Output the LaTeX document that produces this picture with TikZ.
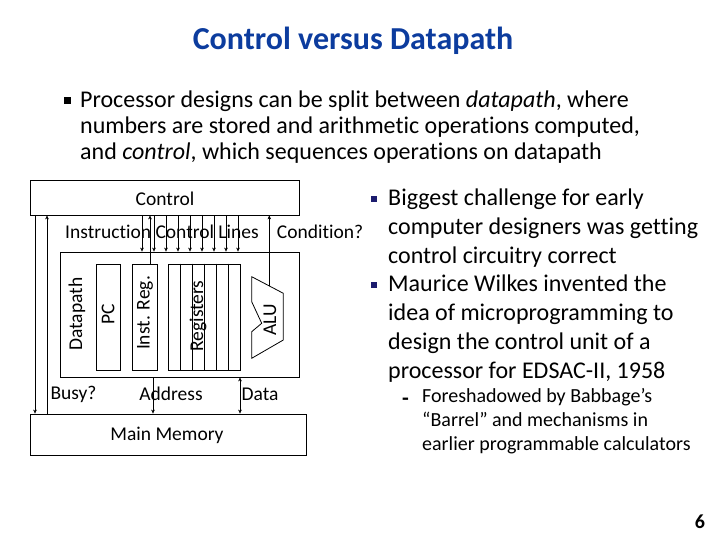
\documentclass[tikz,border=0pt]{standalone}
\usepackage{fontspec}
\setmainfont{Carlito}[Ligatures=NoCommon]
\usetikzlibrary{arrows.meta, positioning, calc}
\definecolor{titleblue}{RGB}{12,60,158}
\definecolor{bulletnavy}{RGB}{28,28,110}

\begin{document}
\begin{tikzpicture}[x=1pt, y=-1pt, >={Stealth[length=4pt, width=3.5pt]}, font=\fontsize{19.5}{23}\selectfont]
				\useasboundingbox (0,0) rectangle (720,540);
				
				% title and top text
				\node[text=titleblue, font=\fontsize{32}{36}\selectfont\bfseries] (title) at (353,41) {Control versus Datapath};
				\node[fill=black, inner sep=0, minimum size=7pt] (b0) at (67,101) {};
				\node[anchor=west, align=left, inner sep=0, font=\fontsize{24}{26}\selectfont] (intro) at (80,127) {Processor designs can be split between \textit{datapath}, where\\numbers are stored and arithmetic operations computed,\\and \textit{control}, which sequences operations on datapath};
				
				% boxes
				\node[draw, thick, inner sep=0, minimum width=269pt, minimum height=35pt] (ctrl) at (164.5,197.5) {};
				\node (ctrltext) at (165,199) {Control};
				\node[draw, thick, inner sep=0, minimum width=239pt, minimum height=125pt] (dpath) at (179.5,314.5) {};
				\node[draw, thick, inner sep=0, minimum width=276pt, minimum height=41pt] (mem) at (168,434.5) {};
				\node (memtext) at (167,435) {Main Memory};
				\node[draw, thick, inner sep=0, minimum width=24pt, minimum height=106pt] (pc) at (108,317) {};
				\node[draw, thick, inner sep=0, minimum width=25pt, minimum height=106pt] (ir) at (144.5,317) {};
				\node[draw, thick, inner sep=0, minimum width=72pt, minimum height=106pt] (regs) at (204,317) {};
				\foreach \x in {180,192,...,228}
					\draw[thick] (regs.north -| \x,0) -- (regs.south -| \x,0);
				\draw[thick] (251.7,276.7) -- coordinate[pos=0.557] (alutop) (283.3,293.3) -- (283.3,340) -- (251.7,358.3)
					-- (251.7,331.7) -- (261.7,323.3) -- (251.7,301.7) -- cycle;
				
				% rotated labels
				\node[rotate=90] (dplabel) at (77,314) {Datapath};
				\node[rotate=90] (pclabel) at (108,314) {PC};
				\node[rotate=90] (irlabel) at (145,313) {Inst. Reg.};
				\node[rotate=90] (reglabel) at (198,316) {Registers};
				\node[rotate=90] (alulabel) at (270,320) {ALU};
				
				% connectors
				\draw[->] (ir.north -| 150,0) -- (ctrl.south -| 150,0);
				\foreach \x in {142,154,...,238}
					\draw[->] (ctrl.south -| \x,0) -- (dpath.north -| \x,0);
				\draw[->] (alutop) -- (ctrl.south -| alutop);
				\draw[->] (ctrl.south -| 35,0) -- (mem.north -| 35,0);
				\draw[->] (mem.north -| 47,0) -- (ctrl.south -| 47,0);
				\draw[->] (dpath.south -| 153,0) -- (mem.north -| 153,0);
				\draw[<->] (dpath.south -| 240,0) -- (mem.north -| 240,0);
				
				\node (linelabel) at (162,232) {Instruction Control Lines};
				\node (condlabel) at (320,232) {Condition?};
				\node (busy) at (73.5,394) {Busy?};
				\node (addr) at (171,394) {Address};
				\node (data) at (260,394) {Data};
				
				% right text
				\node[fill=bulletnavy, inner sep=0, minimum size=6pt] (b1) at (374,199) {};
				\node[fill=bulletnavy, inner sep=0, minimum size=6pt] (b2) at (374,285) {};
				\node[anchor=west, align=left, inner sep=0, font=\fontsize{24}{28.8}\selectfont] (p1) at (388,228) {Biggest challenge for early\\computer designers was getting\\control circuitry correct};
				\node[anchor=west, align=left, inner sep=0, font=\fontsize{24}{28.9}\selectfont] (p2) at (388,328.5) {Maurice Wilkes invented the\\idea of microprogramming to\\design the control unit of a\\processor for EDSAC-II, 1958};
				\node[inner sep=0, font=\fontsize{22}{24}\selectfont\bfseries] (dash) at (405.5,402) {-};
				\node[anchor=west, align=left, inner sep=0, font=\fontsize{20}{24}\selectfont] (p3) at (422,421) {Foreshadowed by Babbage’s\\“Barrel” and mechanisms in\\earlier programmable calculators};
				
				\node[font=\fontsize{20}{22}\selectfont\bfseries] (page) at (700,522) {6};
			\end{tikzpicture}
\end{document}
